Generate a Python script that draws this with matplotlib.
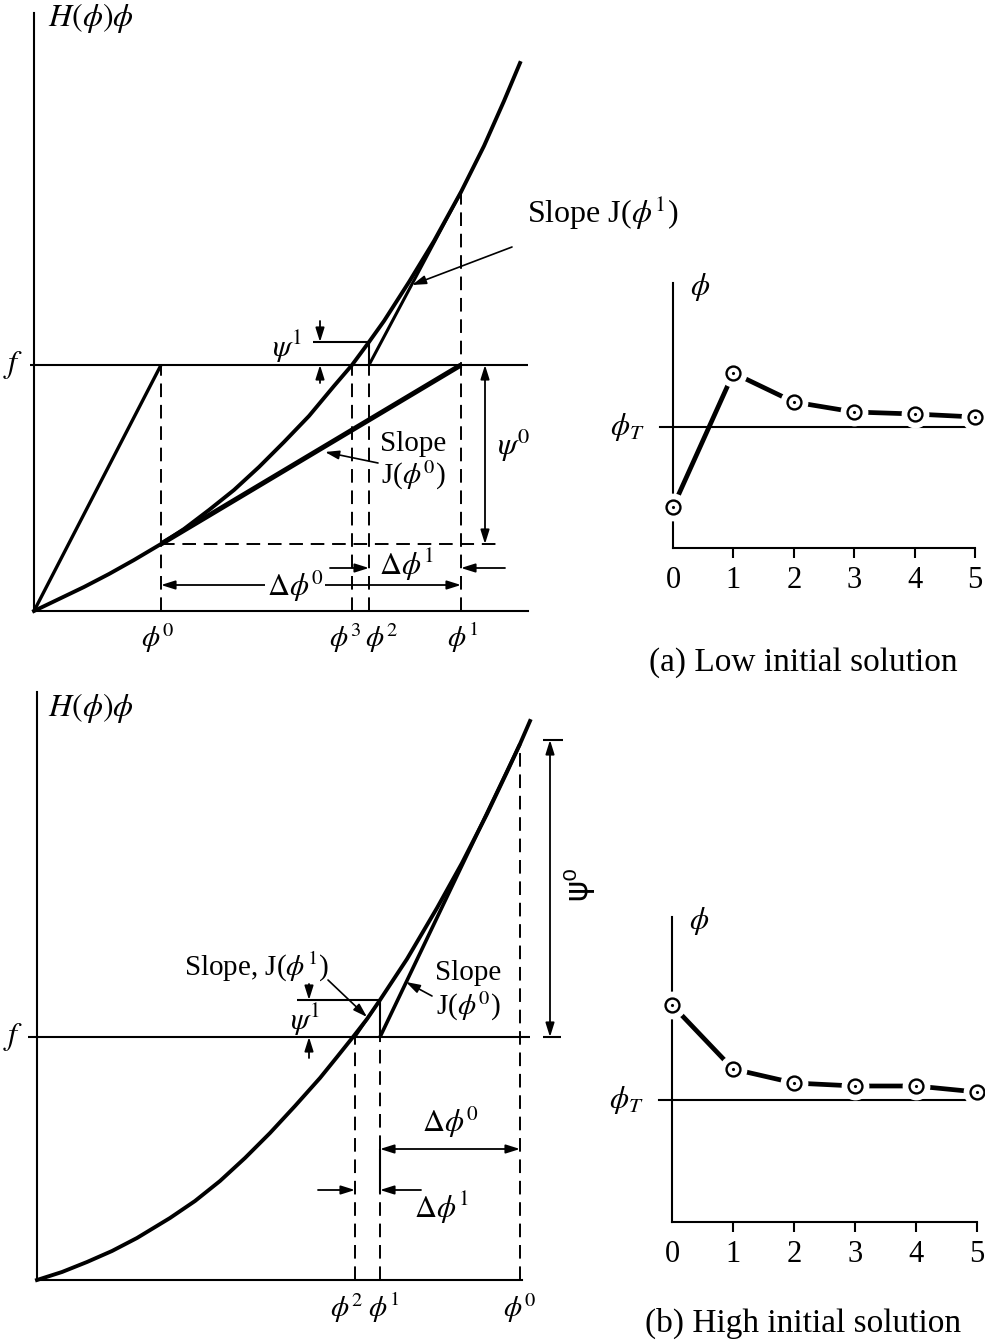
import matplotlib
matplotlib.use("Agg")
import matplotlib.pyplot as plt

plt.rcParams["font.family"] = ["Liberation Serif", "DejaVu Serif"]
plt.rcParams["mathtext.fontset"] = "stix"

W, H = 985, 1341

# (a) low initial solution: H(phi)phi curve
a_curve_x = [0, 0.25, 0.5, 0.75, 1.0, 1.27, 1.5, 1.75, 2.0, 2.25, 2.5, 2.75,
             3.0, 3.18, 3.35, 3.5, 3.75, 4.0, 4.27, 4.5, 4.7, 4.86]
a_curve_y = [0, 0.12, 0.24, 0.37, 0.51, 0.67, 0.82, 1.01, 1.21, 1.44, 1.69, 1.95,
             2.25, 2.46, 2.69, 2.90, 3.29, 3.70, 4.19, 4.65, 5.10, 5.48]
a_f = 2.46
a_phi = [1.27, 4.27, 3.35, 3.18]      # phi^0, phi^1, phi^2, phi^3
a_h = [0.67, 4.19, 2.69]              # curve value at phi^0, phi^1, phi^2

# (b) high initial solution
b_curve_x = [0, 0.25, 0.5, 0.75, 1.0, 1.33, 1.58, 1.83, 2.08, 2.33, 2.58, 2.83,
             3.0, 3.16, 3.3, 3.43, 3.7, 4.0, 4.25, 4.5, 4.7, 4.83, 4.93]
b_curve_y = [0, 0.08, 0.18, 0.29, 0.42, 0.62, 0.79, 0.99, 1.22, 1.47, 1.74, 2.02,
             2.23, 2.43, 2.61, 2.80, 3.21, 3.72, 4.17, 4.66, 5.08, 5.36, 5.59]
b_f = 2.43
b_phi = [4.83, 3.43, 3.18]            # phi^0, phi^1, phi^2
b_h = [5.36, 2.80]

# iteration histories
iters = [0, 1, 2, 3, 4, 5]
low_phi = [0.20, 1.54, 1.25, 1.15, 1.13, 1.10]
high_phi = [1.95, 1.31, 1.17, 1.14, 1.14, 1.08]
phi_T = 1.0

BIG = 23
MID = 22
SMALL = 21


def rect(l, t, r, b):
    return [l / W, 1 - b / H, (r - l) / W, (b - t) / H]


def arrow(ax, x0, y0, x1, y1, style="-|>", lw=1.3):
    ax.annotate("", xy=(x1, y1), xytext=(x0, y0), annotation_clip=False,
                arrowprops=dict(arrowstyle=style + ",head_length=0.7,head_width=0.22",
                                lw=lw, color="k", shrinkA=0, shrinkB=0,
                                mutation_scale=12))


def dashed(ax, xs, ys):
    ax.plot(xs, ys, color="k", lw=1.4, dashes=(7, 4), clip_on=False)


def line(ax, xs, ys, lw=1.5):
    ax.plot(xs, ys, color="k", lw=lw, clip_on=False, solid_capstyle="butt")


def big_axes(r, xmax, ymax):
    ax = fig.add_axes(r)
    ax.set_xlim(0, xmax)
    ax.set_ylim(0, ymax)
    for s in ["top", "right"]:
        ax.spines[s].set_visible(False)
    for s in ["left", "bottom"]:
        ax.spines[s].set_linewidth(1.5)
    ax.set_xticks([])
    ax.set_yticks([])
    ax.patch.set_alpha(0)
    return ax


def iter_axes(r, ymin, ymax, vals, caption, cap_y):
    ax = fig.add_axes(r)
    ax.set_xlim(0, 5)
    ax.set_ylim(ymin, ymax)
    for s in ["top", "right"]:
        ax.spines[s].set_visible(False)
    for s in ["left", "bottom"]:
        ax.spines[s].set_linewidth(1.5)
    ax.set_xticks(iters)
    ax.set_yticks([])
    ax.tick_params(axis="x", direction="out", length=7, width=1.5, pad=6, labelsize=MID)
    ax.xaxis.get_major_ticks()[0].tick1line.set_visible(False)
    ax.patch.set_alpha(0)
    ax.axhline(phi_T, xmin=-0.042, xmax=1.0, color="k", lw=1.5, clip_on=False)
    ax.plot(iters, vals, color="k", lw=3.4, clip_on=False, zorder=3)
    ax.plot(iters, vals, "o", ms=20, mfc="white", mec="none", clip_on=False, zorder=4)
    ax.plot(iters, vals, "o", ms=10, mfc="white", mec="k", mew=1.7, clip_on=False, zorder=5)
    ax.plot(iters, vals, ".", ms=2.5, color="k", clip_on=False, zorder=6)
    ax.text(0.45, ymax - 0.04, r"$\phi$", fontsize=MID, va="center", ha="center")
    ax.text(-0.75, phi_T, r"$\phi_T$", fontsize=MID, va="center", ha="center")
    ax.text(2.15, cap_y, caption, fontsize=24, ha="center", va="center")
    return ax


fig = plt.figure(figsize=(W / 100, H / 100), dpi=100)

# ---------------- (a) big panel ----------------
ax = big_axes(rect(34, 13, 528, 611), 4.94, 5.98)
ax.plot(a_curve_x, a_curve_y, color="k", lw=2.8, clip_on=False, solid_joinstyle="round")
line(ax, [0, a_phi[0]], [0, a_f], lw=2.4)
line(ax, [a_phi[0], a_phi[1]], [a_h[0], a_f], lw=3.6)
line(ax, [a_phi[2], a_phi[1]], [a_f, a_h[1]], lw=2.2)
line(ax, [-0.04, 4.94], [a_f, a_f])
for xv in [a_phi[0], a_phi[3], a_phi[2]]:
    dashed(ax, [xv, xv], [0, a_f])
dashed(ax, [a_phi[1], a_phi[1]], [0, a_h[1]])
dashed(ax, [a_phi[0], 4.63], [a_h[0], a_h[0]])
# psi^0
arrow(ax, 4.51, a_h[0], 4.51, a_f, style="<|-|>")
ax.text(4.80, 1.66, r"$\psi^0$", fontsize=BIG, ha="center", va="center")
# psi^1
line(ax, [2.79, a_phi[2]], [a_h[2], a_h[2]])
line(ax, [a_phi[2], a_phi[2]], [a_f, a_h[2]])
arrow(ax, 2.86, 2.90, 2.86, a_h[2])
arrow(ax, 2.86, 2.28, 2.86, a_f)
ax.text(2.68, 2.64, r"$\psi^1$", fontsize=MID, ha="right", va="center")
# delta phi
arrow(ax, 2.96, 0.43, a_phi[2], 0.43)
arrow(ax, 4.71, 0.43, a_phi[1], 0.43)
ax.text(3.73, 0.46, r"$\Delta\phi^1$", fontsize=MID, ha="center", va="center")
arrow(ax, a_phi[1], 0.26, a_phi[0], 0.26, style="<|-|>")
ax.text(2.61, 0.25, r"$\Delta\phi^0$", fontsize=MID, ha="center", va="center",
        bbox=dict(facecolor="white", edgecolor="none", pad=1))
# slope labels
ax.text(3.79, 1.67, "Slope", fontsize=SMALL, ha="center", va="center")
ax.text(3.79, 1.36, r"J($\phi^0$)", fontsize=SMALL, ha="center", va="center")
arrow(ax, 3.44, 1.48, 2.91, 1.59, lw=1.2)
ax.text(4.93, 3.98, r"Slope J($\phi^1$)", fontsize=BIG, ha="left", va="center")
arrow(ax, 4.78, 3.64, 3.78, 3.26, lw=1.2)
# axis labels
ax.text(0.14, 5.93, r"$H(\phi)\phi$", fontsize=BIG, ha="left", va="center")
ax.text(-0.21, a_f, r"$f$", fontsize=BIG, ha="center", va="center")
for xv, lab, dx in [(a_phi[0], 0, -0.03), (a_phi[1], 1, 0.02), (a_phi[2], 2, 0.13), (a_phi[3], 3, -0.07)]:
    ax.text(xv + dx, -0.27, r"$\phi^%d$" % lab, fontsize=SMALL, ha="center", va="center")

# ---------------- (b) big panel ----------------
ax = big_axes(rect(37, 692, 522, 1280), 4.85, 5.88)
ax.plot(b_curve_x, b_curve_y, color="k", lw=2.8, clip_on=False, solid_joinstyle="round")
line(ax, [b_phi[1], b_phi[0]], [b_f, b_h[0]], lw=2.6)
line(ax, [b_phi[2], b_phi[1]], [b_f, b_h[1]], lw=2.0)
line(ax, [-0.09, 4.93], [b_f, b_f])
dashed(ax, [b_phi[2], b_phi[2]], [0, b_f])
dashed(ax, [b_phi[1], b_phi[1]], [0, 0.87])
line(ax, [b_phi[1], b_phi[1]], [0.87, 1.31])
dashed(ax, [b_phi[1], b_phi[1]], [1.31, b_f])
dashed(ax, [b_phi[0], b_phi[0]], [0, 5.31])
# psi^0
arrow(ax, 5.13, b_f, 5.13, 5.40, style="<|-|>")
line(ax, [5.06, 5.26], [5.40, 5.40])
line(ax, [5.06, 5.24], [b_f, b_f])
ax.text(5.41, 3.97, "ψ⁰", fontsize=BIG, family="DejaVu Sans", rotation=90,
        ha="center", va="center")
# psi^1
line(ax, [2.60, b_phi[1]], [b_h[1], b_h[1]])
line(ax, [b_phi[1], b_phi[1]], [b_f, b_h[1]])
arrow(ax, 2.72, 2.96, 2.72, b_h[1])
arrow(ax, 2.72, 2.22, 2.72, b_f)
ax.text(2.68, 2.60, r"$\psi^1$", fontsize=MID, ha="center", va="center")
# delta phi
arrow(ax, b_phi[1], 1.31, b_phi[0], 1.31, style="<|-|>")
ax.text(4.13, 1.58, r"$\Delta\phi^0$", fontsize=MID, ha="center", va="center")
arrow(ax, 2.81, 0.90, b_phi[2], 0.90)
arrow(ax, 3.84, 0.90, b_phi[1], 0.90)
ax.text(4.05, 0.72, r"$\Delta\phi^1$", fontsize=MID, ha="center", va="center")
# slope labels
ax.text(2.92, 3.13, r"Slope, J($\phi^1$)", fontsize=SMALL, ha="right", va="center")
arrow(ax, 2.91, 3.00, 3.30, 2.63, lw=1.2)
ax.text(4.31, 3.07, "Slope", fontsize=SMALL, ha="center", va="center")
ax.text(4.31, 2.74, r"J($\phi^0$)", fontsize=SMALL, ha="center", va="center")
arrow(ax, 3.95, 2.84, 3.69, 2.98, lw=1.2)
# axis labels
ax.text(0.11, 5.72, r"$H(\phi)\phi$", fontsize=BIG, ha="left", va="center")
ax.text(-0.24, b_f, r"$f$", fontsize=BIG, ha="center", va="center")
for xv, lab, dx in [(b_phi[0], 0, 0.0), (b_phi[1], 1, 0.04), (b_phi[2], 2, -0.08)]:
    ax.text(xv + dx, -0.28, r"$\phi^%d$" % lab, fontsize=SMALL, ha="center", va="center")

# ---------------- iteration panels ----------------
iter_axes(rect(673, 283, 975, 548), -0.21, 2.44, low_phi, "(a) Low initial solution", -1.36)
iter_axes(rect(672, 917, 977, 1222), -0.22, 2.83, high_phi, "(b) High initial solution", -1.23)

fig.savefig("out.png", dpi=100)
